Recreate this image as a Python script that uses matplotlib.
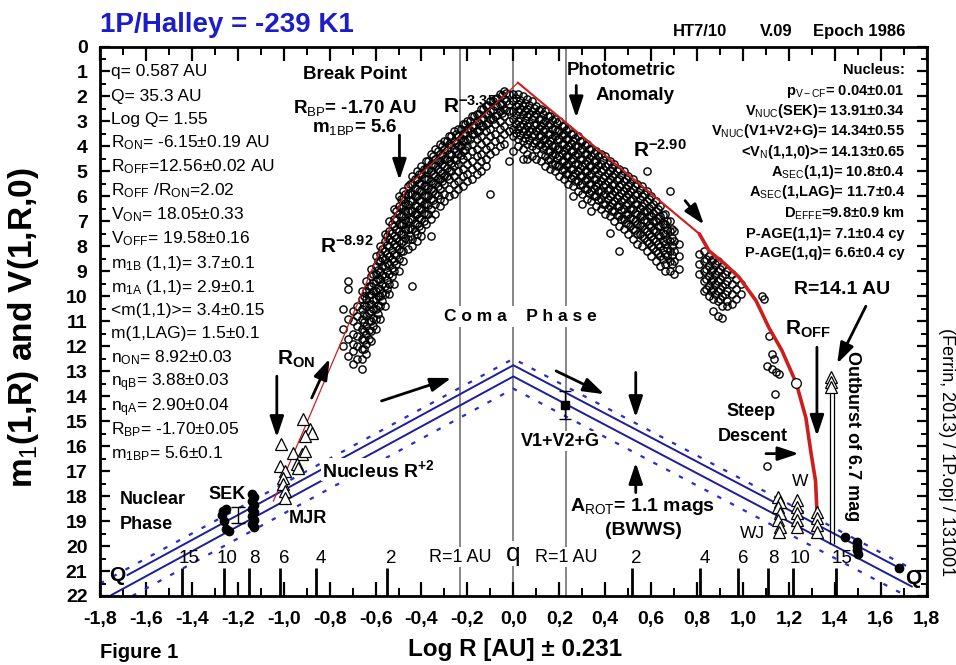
import matplotlib
matplotlib.use('Agg')
import matplotlib.pyplot as plt
import numpy as np
from matplotlib.ticker import FixedLocator

plt.rcParams['font.family'] = ['Liberation Sans', 'DejaVu Sans']
plt.rcParams['mathtext.fontset'] = 'custom'
plt.rcParams['mathtext.rm'] = 'Liberation Sans'
plt.rcParams['mathtext.it'] = 'Liberation Sans:italic'
plt.rcParams['mathtext.bf'] = 'Liberation Sans:bold'

# ---------------- data ----------------
# coma-phase photometry (open circles), columns of x = Log R (+/-) with magnitudes
pre_cols = [
    (-0.74, [10.5, 11.3, 12.0]),
    (-0.72, [9.4, 9.7, 10.9, 11.7, 12.4]),
    (-0.70, [10.6, 11.0, 11.5, 11.9, 12.2, 12.7]),
    (-0.68, [10.4, 10.8, 11.2, 11.6, 12.0, 12.5]),
    (-0.66, [9.8, 10.1, 10.5, 10.9, 11.3, 11.7, 12.1, 12.5, 12.9]),
    (-0.64, [9.4, 9.8, 10.1, 10.4, 10.8, 11.2, 11.5, 11.9, 12.3]),
    (-0.62, [8.9, 9.2, 9.6, 9.9, 10.3, 10.6, 11.0, 11.4, 11.8]),
    (-0.60, [8.4, 8.8, 9.1, 9.4, 9.8, 10.1, 10.5, 10.9, 11.3]),
    (-0.58, [8.0, 8.3, 8.6, 9.0, 9.3, 9.7, 10.0, 10.4, 10.9]),
    (-0.56, [7.5, 7.8, 8.2, 8.5, 8.8, 9.2, 9.6, 9.9, 10.4]),
    (-0.54, [7.0, 7.4, 7.7, 8.0, 8.4, 8.7, 9.1, 9.5, 9.9]),
    (-0.52, [6.5, 6.9, 7.2, 7.6, 7.9, 8.3, 8.6, 9.0, 9.5]),
    (-0.50, [6.0, 6.4, 6.7, 7.1, 7.4, 7.8, 8.1, 8.5, 9.0]),
    (-0.48, [5.8, 6.1, 6.4, 6.8, 7.1, 7.5, 7.8, 8.2, 8.6]),
    (-0.46, [5.6, 5.9, 6.3, 6.6, 7.0, 7.3, 7.7, 8.1]),
    (-0.44, [5.2, 5.5, 5.9, 6.2, 6.6, 6.9, 7.3, 7.7, 8.0, 9.6]),
    (-0.42, [5.0, 5.3, 5.7, 6.0, 6.4, 6.7, 7.1, 7.5, 7.8]),
    (-0.40, [4.8, 5.1, 5.5, 5.8, 6.2, 6.5, 6.9, 7.3, 7.6]),
    (-0.38, [4.6, 4.9, 5.3, 5.6, 6.0, 6.3, 6.7, 7.1]),
    (-0.36, [4.3, 4.7, 5.0, 5.4, 5.7, 6.1, 6.5, 6.9, 7.6]),
    (-0.34, [4.1, 4.5, 4.8, 5.2, 5.5, 5.9, 6.3, 6.7]),
    (-0.32, [3.9, 4.3, 4.6, 5.0, 5.3, 5.7, 6.1, 6.4]),
    (-0.30, [3.8, 4.1, 4.5, 4.8, 5.2, 5.5, 5.9, 6.2]),
    (-0.28, [3.6, 3.9, 4.3, 4.6, 5.0, 5.3, 5.7, 6.0]),
    (-0.26, [3.4, 3.8, 4.1, 4.5, 4.8, 5.2, 5.5, 5.9]),
    (-0.24, [3.3, 3.6, 4.0, 4.3, 4.7, 5.0, 5.4, 5.7]),
    (-0.22, [3.1, 3.5, 3.8, 4.2, 4.5, 4.9, 5.2, 5.6]),
    (-0.20, [3.0, 3.3, 3.7, 4.0, 4.4, 4.7, 5.1, 5.4]),
    (-0.18, [2.8, 3.2, 3.5, 3.9, 4.2, 4.6, 4.9, 5.3]),
    (-0.16, [2.7, 3.0, 3.4, 3.7, 4.1, 4.4, 4.8, 5.1]),
    (-0.14, [2.5, 2.9, 3.2, 3.6, 3.9, 4.3, 4.6, 5.0]),
    (-0.12, [2.4, 2.7, 3.1, 3.4, 3.8, 4.1, 4.5, 4.8]),
    (-0.10, [2.2, 2.6, 2.9, 3.3, 3.6, 4.0, 4.3, 5.9]),
    (-0.08, [2.1, 2.4, 2.8, 3.1, 3.5, 3.8, 4.2]),
    (-0.06, [1.9, 2.3, 2.6, 3.0, 3.3, 3.7, 4.0]),
    (-0.04, [1.8, 2.1, 2.5, 2.8, 3.2, 3.5, 3.9]),
    (-0.02, [1.9, 2.3, 2.6, 3.0, 3.4, 4.6]),
]
pre_core_cols = [
    (-0.65, [10.0, 10.35, 10.7, 11.05, 11.4, 11.75, 12.1]),
    (-0.63, [9.6, 9.95, 10.3, 10.65, 11.0, 11.35, 11.7]),
    (-0.61, [9.1, 9.45, 9.8, 10.15, 10.5, 10.85, 11.2]),
    (-0.59, [8.6, 8.95, 9.3, 9.65, 10.0, 10.35, 10.7]),
    (-0.57, [8.1, 8.45, 8.8, 9.15, 9.5, 9.85, 10.2]),
    (-0.55, [7.6, 7.95, 8.3, 8.65, 9.0, 9.35, 9.7]),
    (-0.53, [7.1, 7.45, 7.8, 8.15, 8.5, 8.85, 9.2]),
    (-0.51, [6.6, 6.95, 7.3, 7.65, 8.0, 8.35, 8.7]),
    (-0.49, [6.1, 6.45, 6.8, 7.15, 7.5, 7.85, 8.2]),
    (-0.47, [5.9, 6.25, 6.6, 6.95, 7.3, 7.65]),
    (-0.45, [5.5, 5.85, 6.2, 6.55, 6.9, 7.25, 7.6]),
    (-0.43, [5.3, 5.65, 6.0, 6.35, 6.7, 7.05, 7.4]),
    (-0.41, [5.1, 5.45, 5.8, 6.15, 6.5, 6.85, 7.2]),
    (-0.39, [4.9, 5.25, 5.6, 5.95, 6.3, 6.65, 7.0]),
    (-0.37, [4.6, 4.95, 5.3, 5.65, 6.0, 6.35, 6.7]),
    (-0.35, [4.4, 4.75, 5.1, 5.45, 5.8, 6.15]),
    (-0.33, [4.2, 4.55, 4.9, 5.25, 5.6, 5.95]),
    (-0.31, [4.0, 4.35, 4.7, 5.05, 5.4]),
    (-0.29, [3.8, 4.15, 4.5, 4.85, 5.2]),
    (-0.27, [3.6, 3.95, 4.3, 4.65, 5.0]),
    (-0.25, [3.5, 3.85, 4.2, 4.55]),
    (-0.23, [3.3, 3.65, 4.0, 4.35]),
    (-0.21, [3.1, 3.45, 3.8, 4.15]),
    (-0.19, [3.0, 3.35, 3.7]),
    (-0.17, [2.8, 3.15, 3.5]),
    (-0.15, [2.7, 3.05, 3.4]),
    (-0.13, [2.5, 2.85, 3.2]),
    (-0.11, [2.35, 2.7, 3.05]),
    (-0.09, [2.2, 2.55, 2.9]),
    (-0.07, [2.05, 2.4, 2.75]),
    (-0.05, [1.95, 2.3, 2.65]),
    (-0.03, [1.85, 2.2, 2.55]),
]
post_cols = [
    (0.00, [1.9, 2.2, 2.6, 2.9, 3.3, 3.6, 4.2]),
    (0.02, [1.9, 2.3, 2.6, 3.0, 3.3, 3.7, 4.0]),
    (0.04, [2.0, 2.4, 2.7, 3.1, 3.4, 3.8, 4.1, 4.5]),
    (0.06, [2.1, 2.5, 2.8, 3.2, 3.5, 3.9, 4.3]),
    (0.08, [2.2, 2.6, 2.9, 3.3, 3.6, 4.0, 4.4]),
    (0.10, [2.4, 2.7, 3.1, 3.4, 3.8, 4.1, 4.5]),
    (0.12, [2.5, 2.9, 3.2, 3.6, 3.9, 4.3, 4.6]),
    (0.14, [2.6, 3.0, 3.3, 3.7, 4.0, 4.4, 4.8]),
    (0.16, [2.8, 3.1, 3.5, 3.8, 4.2, 4.5, 4.9]),
    (0.18, [2.9, 3.3, 3.6, 4.0, 4.3, 4.7, 5.0]),
    (0.20, [3.0, 3.4, 3.7, 4.1, 4.4, 4.8, 5.2]),
    (0.22, [3.2, 3.5, 3.9, 4.2, 4.6, 4.9, 5.3]),
    (0.24, [3.3, 3.7, 4.0, 4.4, 4.7, 5.1, 5.5]),
    (0.26, [3.5, 3.8, 4.2, 4.5, 4.9, 5.2, 5.6, 6.0]),
    (0.28, [3.6, 4.0, 4.3, 4.7, 5.0, 5.4, 5.8]),
    (0.30, [3.8, 4.1, 4.5, 4.8, 5.2, 5.5, 5.9, 6.3]),
    (0.32, [3.9, 4.3, 4.6, 5.0, 5.3, 5.7, 6.1]),
    (0.34, [4.1, 4.4, 4.8, 5.1, 5.5, 5.8, 6.2, 6.6]),
    (0.36, [4.2, 4.6, 4.9, 5.3, 5.6, 6.0, 6.4]),
    (0.38, [4.3, 4.7, 5.0, 5.4, 5.8, 6.1, 6.5]),
    (0.40, [4.4, 4.8, 5.2, 5.5, 5.9, 6.3, 6.7]),
    (0.42, [4.6, 5.0, 5.3, 5.7, 6.0, 6.4, 6.8, 7.45]),
    (0.44, [4.7, 5.1, 5.5, 5.8, 6.2, 6.6, 7.0]),
    (0.46, [4.9, 5.3, 5.6, 6.0, 6.4, 6.8, 7.2, 8.2]),
    (0.48, [5.0, 5.4, 5.8, 6.1, 6.5, 6.9, 7.3]),
    (0.50, [5.2, 5.6, 5.9, 6.3, 6.7, 7.1, 7.5]),
    (0.52, [5.3, 5.7, 6.1, 6.5, 6.9, 7.3, 7.7]),
    (0.54, [5.5, 5.9, 6.3, 6.7, 7.1, 7.5, 7.9]),
    (0.56, [5.6, 6.0, 6.4, 6.8, 7.2, 7.6, 8.0]),
    (0.58, [5.0, 5.8, 6.2, 6.6, 7.0, 7.4, 7.8, 8.2]),
    (0.60, [6.0, 6.4, 6.8, 7.2, 7.6, 8.0, 8.4]),
    (0.62, [6.2, 6.6, 7.0, 7.4, 7.8, 8.2, 8.6]),
    (0.64, [6.4, 6.8, 7.2, 7.6, 8.0, 8.4, 8.8]),
    (0.66, [6.7, 7.1, 7.5, 7.9, 8.3, 8.7, 9.0]),
    (0.68, [5.8, 7.0, 7.4, 7.8, 8.2, 8.6, 9.0]),
    (0.70, [7.4, 7.8, 8.2, 8.6, 9.1]),
    (0.72, [7.9, 8.4, 8.9]),
    (0.81, [8.3, 8.7, 9.1]),
    (0.83, [8.2, 8.6, 9.0, 9.4, 9.8]),
    (0.85, [8.4, 8.8, 9.2, 9.6, 10.0]),
    (0.87, [8.5, 8.9, 9.3, 9.7, 10.1, 10.6]),
    (0.89, [8.6, 9.0, 9.4, 9.8, 10.2, 10.8]),
    (0.91, [8.8, 9.2, 9.6, 10.0, 10.4, 10.85]),
    (0.93, [9.0, 9.4, 9.8, 10.2, 10.4]),
    (0.95, [9.1, 9.5, 9.9, 10.3]),
    (0.97, [9.3, 9.7, 10.1]),
    (0.99, [9.5, 9.9]),
]
post_core_cols = [
    (0.01, [2.05, 2.4, 2.75, 3.1, 3.45]),
    (0.03, [2.15, 2.5, 2.85, 3.2, 3.55]),
    (0.05, [2.25, 2.6, 2.95, 3.3, 3.65]),
    (0.07, [2.35, 2.7, 3.05, 3.4, 3.75]),
    (0.09, [2.45, 2.8, 3.15, 3.5, 3.85]),
    (0.11, [2.55, 2.9, 3.25, 3.6, 3.95]),
    (0.13, [2.7, 3.05, 3.4, 3.75, 4.1]),
    (0.15, [2.8, 3.15, 3.5, 3.85, 4.2, 4.55]),
    (0.17, [2.95, 3.3, 3.65, 4.0, 4.35, 4.7]),
    (0.19, [3.05, 3.4, 3.75, 4.1, 4.45, 4.8]),
    (0.21, [3.2, 3.55, 3.9, 4.25, 4.6, 4.95]),
    (0.23, [3.35, 3.7, 4.05, 4.4, 4.75, 5.1]),
    (0.25, [3.5, 3.85, 4.2, 4.55, 4.9, 5.25]),
    (0.27, [3.65, 4.0, 4.35, 4.7, 5.05, 5.4]),
    (0.29, [3.8, 4.15, 4.5, 4.85, 5.2, 5.55]),
    (0.31, [3.95, 4.3, 4.65, 5.0, 5.35, 5.7]),
    (0.33, [4.1, 4.45, 4.8, 5.15, 5.5, 5.85]),
    (0.35, [4.25, 4.6, 4.95, 5.3, 5.65, 6.0]),
    (0.37, [4.4, 4.75, 5.1, 5.45, 5.8, 6.15]),
    (0.39, [4.55, 4.9, 5.25, 5.6, 5.95, 6.3]),
    (0.41, [4.7, 5.05, 5.4, 5.75, 6.1, 6.45]),
    (0.43, [4.85, 5.2, 5.55, 5.9, 6.25, 6.6]),
    (0.45, [5.0, 5.35, 5.7, 6.05, 6.4, 6.75]),
    (0.47, [5.15, 5.5, 5.85, 6.2, 6.55, 6.9]),
    (0.49, [5.3, 5.65, 6.0, 6.35, 6.7, 7.05]),
    (0.51, [5.45, 5.8, 6.15, 6.5, 6.85, 7.2]),
    (0.53, [5.6, 5.95, 6.3, 6.65, 7.0, 7.35]),
    (0.55, [5.75, 6.1, 6.45, 6.8, 7.15, 7.5]),
    (0.57, [5.9, 6.25, 6.6, 6.95, 7.3, 7.65]),
    (0.59, [6.1, 6.45, 6.8, 7.15, 7.5, 7.85]),
    (0.61, [6.3, 6.65, 7.0, 7.35, 7.7, 8.05]),
    (0.63, [6.5, 6.85, 7.2, 7.55, 7.9, 8.25]),
    (0.65, [6.75, 7.1, 7.45, 7.8, 8.15, 8.5]),
    (0.67, [7.0, 7.35, 7.7, 8.05, 8.4]),
    (0.69, [7.3, 7.65, 8.0, 8.35, 8.7]),
    (0.84, [8.5, 8.9, 9.3, 9.7]),
    (0.86, [8.6, 9.0, 9.4, 9.8]),
    (0.88, [8.7, 9.1, 9.5, 9.9]),
    (0.90, [8.9, 9.3, 9.7, 10.1]),
    (0.92, [9.1, 9.5, 9.9]),
]
sparse_x = [1.083, 1.09, 1.113, 1.127, 1.135, 1.105, 1.127, 1.143, 1.157, 1.139, 1.104, 0.06]
sparse_y = [9.98, 10.1, 11.6, 12.3, 12.5, 12.8, 12.9, 13.05, 13.1, 13.9, 16.8, 4.5]

# nuclear photometry: open triangles
tri_pre_x = [-0.917, -1.01, -0.887, -0.878, -0.909, -0.96, -0.922, -0.909, -1.017, -0.996,
             -1.004, -1.004, -0.996, -0.996, -0.943, -0.939]
tri_pre_y = [14.9, 15.9, 15.3, 15.47, 15.6, 16.27, 16.3, 16.2, 16.8, 17.0,
             17.27, 17.5, 17.8, 18.07, 16.7, 16.87]
tri_post_x = [1.152, 1.162, 1.152, 1.162, 1.152, 1.162, 1.155,
              1.235, 1.235, 1.235, 1.235, 1.235,
              1.322, 1.322, 1.322, 1.322]
tri_post_y = [18.02, 18.22, 18.42, 18.69, 18.96, 19.22, 19.42,
              18.15, 18.42, 18.69, 18.96, 19.22,
              18.62, 18.89, 19.16, 19.42]
outburst_x = [1.385, 1.385, 1.385]
outburst_y = [13.25, 13.45, 13.65]

# filled dots
dot_x = [-1.25, -1.265, -1.27, -1.26, -1.25, -1.24,
         -1.14, -1.13, -1.14, -1.13, -1.14, -1.13, -1.14, -1.13, -1.14, -1.13,
         1.443, 1.496, 1.496, 1.496, 1.5, 1.678]
dot_y = [18.5, 18.6, 18.75, 19.0, 19.3, 19.4,
         17.9, 18.05, 18.2, 18.35, 18.5, 18.65, 18.8, 18.95, 19.1, 19.25,
         19.62, 19.85, 20.0, 20.15, 20.3, 20.89]

# red fits
red_pre_x = [-1.045, -0.461, 0.02]
red_pre_y = [18.2, 5.6, 1.45]
red_post_x = [0.02, 0.81]
red_post_y = [1.45, 7.5]
red_tail_x = [0.81, 0.852, 0.92, 0.983, 1.057, 1.113, 1.17, 1.232, 1.274, 1.295, 1.316, 1.322]
red_tail_y = [7.5, 8.18, 8.7, 9.24, 10.18, 11.26, 12.18, 13.48, 14.87, 16.2, 17.4, 18.6]
roff_x, roff_y = [1.232], [13.48]

# nucleus lines
nuc_up_x, nuc_up_y = [-1.68, 0.0, 1.69], [21.16, 12.76, 20.92]
nuc_lo_x, nuc_lo_y = [-1.75, 0.0, 1.735], [21.96, 13.21, 21.62]
dash_up_x, dash_up_y = [-1.8, 0.0, 1.8], [21.5, 12.5, 21.23]
dash_lo_x, dash_lo_y = [-1.66, 0.0, 1.71], [22.0, 13.7, 21.99]

# V1+V2+G and SEK error-bar points
v12g_x, v12g_y, v12g_err = [0.225], [14.35], [0.57]
sek_x, sek_y, sek_err = [-1.2], [18.75], [0.33]

# AU scale on the bottom
au_labels = ['15', '10', '8', '6', '4', '2', '2', '4', '6', '8', '10', '15']
au_tick_x = [-1.442, -1.26, -1.151, -1.017, -0.858, -0.549, 0.516, 0.812, 0.980, 1.110, 1.217, 1.403]
au_label_x = [-1.414, -1.247, -1.128, -0.996, -0.838, -0.533, 0.534, 0.833, 1.002, 1.132, 1.249, 1.43]
vline_x = [-0.231, 0.0, 0.231]

left_lines = [
    "q= 0.587 AU", "Q= 35.3 AU", "Log Q= 1.55",
    r"R$_{\rm ON}$= -6.15±0.19 AU", r"R$_{\rm OFF}$=12.56±0.02 AU",
    r"R$_{\rm OFF}$ /R$_{\rm ON}$=2.02", r"V$_{\rm ON}$= 18.05±0.33",
    r"V$_{\rm OFF}$= 19.58±0.16", r"m$_{\rm 1B}$ (1,1)= 3.7±0.1",
    r"m$_{\rm 1A}$ (1,1)= 2.9±0.1", "<m(1,1)>= 3.4±0.15", "m(1,LAG)= 1.5±0.1",
    r"n$_{\rm ON}$= 8.92±0.03", r"n$_{\rm qB}$= 3.88±0.03", r"n$_{\rm qA}$= 2.90±0.04",
    r"R$_{\rm BP}$= -1.70±0.05", r"m$_{\rm 1BP}$= 5.6±0.1",
]
left_y = [0.96, 1.94, 2.86, 3.82, 4.78, 5.72, 6.68, 7.64, 8.64, 9.58, 10.51, 11.45,
          12.42, 13.39, 14.39, 15.3, 16.26]
right_lines = [
    "Nucleus:", r"p$_{\rm V-CF}$= 0.04±0.01", r"V$_{\rm NUC}$(SEK)= 13.91±0.34",
    r"V$_{\rm NUC}$(V1+V2+G)= 14.34±0.55", r"<V$_{\rm N}$(1,1,0)>= 14.13±0.65",
    r"A$_{\rm SEC}$(1,1)= 10.8±0.4", r"A$_{\rm SEC}$(1,LAG)= 11.7±0.4",
    r"D$_{\rm EFFE}$=9.8±0.9 km", "P-AGE(1,1)= 7.1±0.4 cy", "P-AGE(1,q)= 6.6±0.4 cy",
]
right_y = [0.89, 1.76, 2.54, 3.34, 4.17, 4.97, 5.8, 6.64, 7.47, 8.22]

# ---------------- figure ----------------
W, H = 956, 665
fig = plt.figure(figsize=(W / 100, H / 100), dpi=100)
ax = fig.add_axes([100 / W, 1 - 596 / H, (926.7 - 100) / W, (596 - 46.5) / H])
ax.set_xlim(-1.8, 1.8)
ax.set_ylim(22, 0)

def fx(px):
    return px / W

def fy(py):
    return 1 - py / H

RED = '#cc1e1e'
BLUE = '#1c1c9c'
BLUE2 = '#2b2bcc'

# vertical reference lines
for xv in vline_x:
    ax.axvline(xv, color='#666666', lw=1.1, zorder=1)

# nucleus lines
ax.plot(nuc_up_x, nuc_up_y, color=BLUE, lw=1.4, zorder=2)
ax.plot(nuc_lo_x, nuc_lo_y, color=BLUE, lw=1.4, zorder=2)
ax.plot(dash_up_x, dash_up_y, color=BLUE2, lw=1.6, ls=(0, (2, 4.5)), zorder=2)
ax.plot(dash_lo_x, dash_lo_y, color=BLUE2, lw=1.6, ls=(0, (2, 4.5)), zorder=2)

# coma scatter
cx, cy = [], []
for x0, ys in pre_cols + pre_core_cols + post_cols + post_core_cols:
    for yv in ys:
        cx.append(x0)
        cy.append(yv)
cx += sparse_x
cy += sparse_y
ax.plot(cx, cy, ls='none', marker='o', ms=5.2, mfc='none', mec='black', mew=1.0, zorder=3)

# red fits
ax.plot(red_pre_x, red_pre_y, color=RED, lw=0.9, zorder=4)
ax.plot(red_post_x, red_post_y, color=RED, lw=1.5, zorder=4)
ax.plot(red_tail_x, red_tail_y, color=RED, lw=2.6, zorder=4, solid_capstyle='round')
ax.plot(roff_x, roff_y, ls='none', marker='o', ms=7, mfc='white', mec='black', mew=0.9, zorder=5)

# triangles
ax.plot(tri_pre_x, tri_pre_y, ls='none', marker='^', ms=8, mfc='white', mec='black', mew=0.9, zorder=5)
ax.plot(tri_post_x, tri_post_y, ls='none', marker='^', ms=8, mfc='white', mec='black', mew=0.9, zorder=5)
ax.plot(outburst_x, outburst_y, ls='none', marker='^', ms=8, mfc='white', mec='black', mew=0.9, zorder=5)
ax.vlines([1.378, 1.396], outburst_y[-1], 19.9, color='black', lw=0.9, zorder=4)

# filled dots
ax.plot(dot_x, dot_y, ls='none', marker='o', ms=6, color='black', zorder=5)
ax.errorbar(v12g_x, v12g_y, yerr=v12g_err, fmt='s', ms=6, color='black', capsize=4, lw=1, zorder=5)
ax.errorbar(sek_x, sek_y, yerr=sek_err, fmt='none', ecolor='black', capsize=5, lw=1, zorder=5)

# AU scale
ax.vlines(au_tick_x, 20.88, 22, color='black', lw=2, zorder=6)
for xl, lab in zip(au_label_x, au_labels):
    ax.text(xl, 20.5, lab, ha='center', va='center', fontsize=13.5, zorder=6)
ax.text(-0.231, 20.45, "R=1 AU", ha='center', va='center', fontsize=13,
        bbox=dict(facecolor='white', edgecolor='none', pad=1), zorder=6)
ax.text(0.231, 20.45, "R=1 AU", ha='center', va='center', fontsize=13,
        bbox=dict(facecolor='white', edgecolor='none', pad=1), zorder=6)
ax.text(0.0, 20.3, "q", ha='center', va='center', fontsize=19,
        bbox=dict(facecolor='white', edgecolor='none', pad=0.5), zorder=6)

# ticks
def fmt(v):
    return "0,0" if abs(v) < 1e-9 else f"{v:.1f}".replace('.', ',')

xt = np.round(np.arange(-1.8, 1.801, 0.2), 1)
ax.set_xticks(xt)
ax.set_xticklabels([fmt(v) for v in xt], fontweight='bold', fontsize=14)
ax.xaxis.set_minor_locator(FixedLocator(np.round(np.arange(-1.7, 1.75, 0.2), 1)))
yt = list(range(23))
ax.set_yticks(yt)
ax.set_yticklabels([str(v) for v in yt], fontweight='bold', fontsize=14)
ax.yaxis.set_minor_locator(FixedLocator(np.arange(0.5, 22, 1.0)))
ax.tick_params(axis='x', which='major', direction='in', length=10, width=1.6, top=True, pad=10.5)
ax.tick_params(axis='x', which='minor', direction='in', length=5.5, width=1.4, top=True)
ax.tick_params(axis='y', which='major', direction='in', length=7.5, width=1.6, right=True, pad=9)
ax.tick_params(axis='y', which='minor', direction='in', length=4.5, width=1.4, right=True)
for s in ax.spines.values():
    s.set_linewidth(2)

# left parameter block
for t, yv in zip(left_lines, left_y):
    ax.text(-1.753, yv + 0.23, t, ha='left', va='baseline', fontsize=12.5, zorder=7)
# right nucleus block
for t, yv in zip(right_lines, right_y):
    ax.text(1.705, yv + 0.2, t, ha='right', va='baseline', fontsize=10.5, fontweight='bold', zorder=7)

# annotations
B = dict(fontweight='bold', zorder=7)
ax.text(-0.689, 1.14, "Break Point", ha='center', va='center', fontsize=13.5, **B)
ax.text(-0.689, 2.67, r"R$_{\rm BP}$= -1.70 AU", ha='center', va='baseline', fontsize=13.5, **B)
ax.text(-0.689, 3.41, r"m$_{\rm 1BP}$= 5.6", ha='center', va='baseline', fontsize=13.5, **B)
ax.text(-0.306, 2.67, r"R$^{\mathbf{-3.35}}$", ha='left', va='baseline', fontsize=15, **B)
ax.text(0.234, 1.14, "Photometric", ha='left', va='baseline', fontsize=13.5, **B)
ax.text(0.356, 2.14, "Anomaly", ha='left', va='baseline', fontsize=13.5, **B)
ax.text(0.521, 4.41, r"R$^{\mathbf{-2.90}}$", ha='left', va='baseline', fontsize=15, **B)
ax.text(-0.842, 8.27, r"R$^{\mathbf{-8.92}}$", ha='left', va='baseline', fontsize=15, **B)
ax.text(0.03, 10.82, "C o m a    P h a s e", ha='center', va='center', fontsize=12.5,
        bbox=dict(facecolor='white', edgecolor='none', pad=2), **B)
ax.text(-1.03, 12.75, r"R$_{\mathbf{ON}}$", ha='left', va='baseline', fontsize=15, **B)
ax.text(1.183, 11.55, r"R$_{\mathbf{OFF}}$", ha='left', va='baseline', fontsize=15, **B)
ax.text(-0.833, 17.22, r"Nucleus R$^{\mathbf{+2}}$", ha='left', va='baseline', fontsize=14,
        bbox=dict(facecolor='white', edgecolor='none', pad=0.5), **B)
ax.text(-1.713, 18.33, "Nuclear", ha='left', va='baseline', fontsize=13, **B)
ax.text(-1.713, 19.33, "Phase", ha='left', va='baseline', fontsize=13, **B)
ax.text(-1.247, 18.13, "SEK", ha='center', va='baseline', fontsize=13, **B)
ax.text(-0.894, 19.06, "MJR", ha='center', va='baseline', fontsize=13, **B)
ax.text(-1.726, 21.16, "Q", ha='center', va='center', fontsize=15, **B)
ax.text(1.74, 21.28, "Q", ha='center', va='center', fontsize=15, **B)
ax.text(0.203, 15.99, "V1+V2+G", ha='center', va='baseline', fontsize=13,
        bbox=dict(facecolor='white', edgecolor='none', pad=1), **B)
ax.text(0.247, 18.6, r"A$_{\rm ROT}$= 1.1 mags", ha='left', va='baseline', fontsize=14, **B)
ax.text(0.567, 19.56, "(BWWS)", ha='center', va='baseline', fontsize=14, **B)
ax.text(1.035, 14.79, "Steep", ha='center', va='baseline', fontsize=13, **B)
ax.text(1.043, 15.78, "Descent", ha='center', va='baseline', fontsize=13, **B)
ax.text(1.248, 17.59, "W", ha='center', va='baseline', fontsize=12.5, zorder=7)
ax.text(1.039, 19.66, "WJ", ha='center', va='baseline', fontsize=12.5, zorder=7)
ax.text(1.43, 9.71, "R=14.1 AU", ha='center', va='center', fontsize=14, **B)
ax.text(1.478, 15.6, "Outburst of 6.7 mag", ha='center', va='center', rotation=-90, fontsize=13, **B)

arrows = [
    ((-0.496, 3.55), (-0.496, 5.35)),
    ((0.274, 1.56), (0.274, 2.85)),
    ((-1.03, 13.2), (-1.03, 15.65)),
    ((0.533, 13.05), (0.533, 14.85)),
    ((0.533, 17.86), (0.533, 16.66)),
    ((1.322, 12.04), (1.322, 15.6)),
    ((1.10, 16.3), (1.243, 16.3)),
    ((-0.878, 14.07), (-0.80, 12.5)),
    ((0.748, 6.17), (0.83, 7.13)),
    ((-0.574, 14.19), (-0.27, 13.27)),
    ((0.186, 12.99), (0.396, 13.92)),
    ((1.535, 10.4), (1.41, 12.7)),
]
for tail, head in arrows:
    ax.annotate('', xy=head, xytext=tail,
                arrowprops=dict(arrowstyle='-|>,head_length=0.9,head_width=0.3', color='black',
                                lw=2, mutation_scale=14, shrinkA=0, shrinkB=0), zorder=8)

# outside texts
fig.text(fx(100), fy(31.7), "1P/Halley = -239 K1", color='#1c1cc8', fontsize=20,
         fontweight='bold', ha='left', va='baseline')
fig.text(fx(673), fy(36), "HT7/10", fontsize=12, fontweight='bold', ha='left', va='baseline')
fig.text(fx(760), fy(36), "V.09", fontsize=12, fontweight='bold', ha='left', va='baseline')
fig.text(fx(813), fy(36), "Epoch 1986", fontsize=12, fontweight='bold', ha='left', va='baseline')
fig.text(fx(24), fy(328), r"m$_{\rm 1}$(1,R) and V(1,R,0)", rotation=90, fontsize=24,
         fontweight='bold', ha='center', va='center')
fig.text(fx(515), fy(656), "Log R [AU] ± 0.231", fontsize=17.5, fontweight='bold',
         ha='center', va='baseline')
fig.text(fx(100), fy(658), "Figure 1", fontsize=14.5, fontweight='bold', ha='left', va='baseline')
fig.text(fx(946), fy(452), "(Ferrin, 2013) / 1P.opj / 131001", rotation=-90, fontsize=13,
         ha='center', va='center')

fig.savefig('out.png', dpi=100)
